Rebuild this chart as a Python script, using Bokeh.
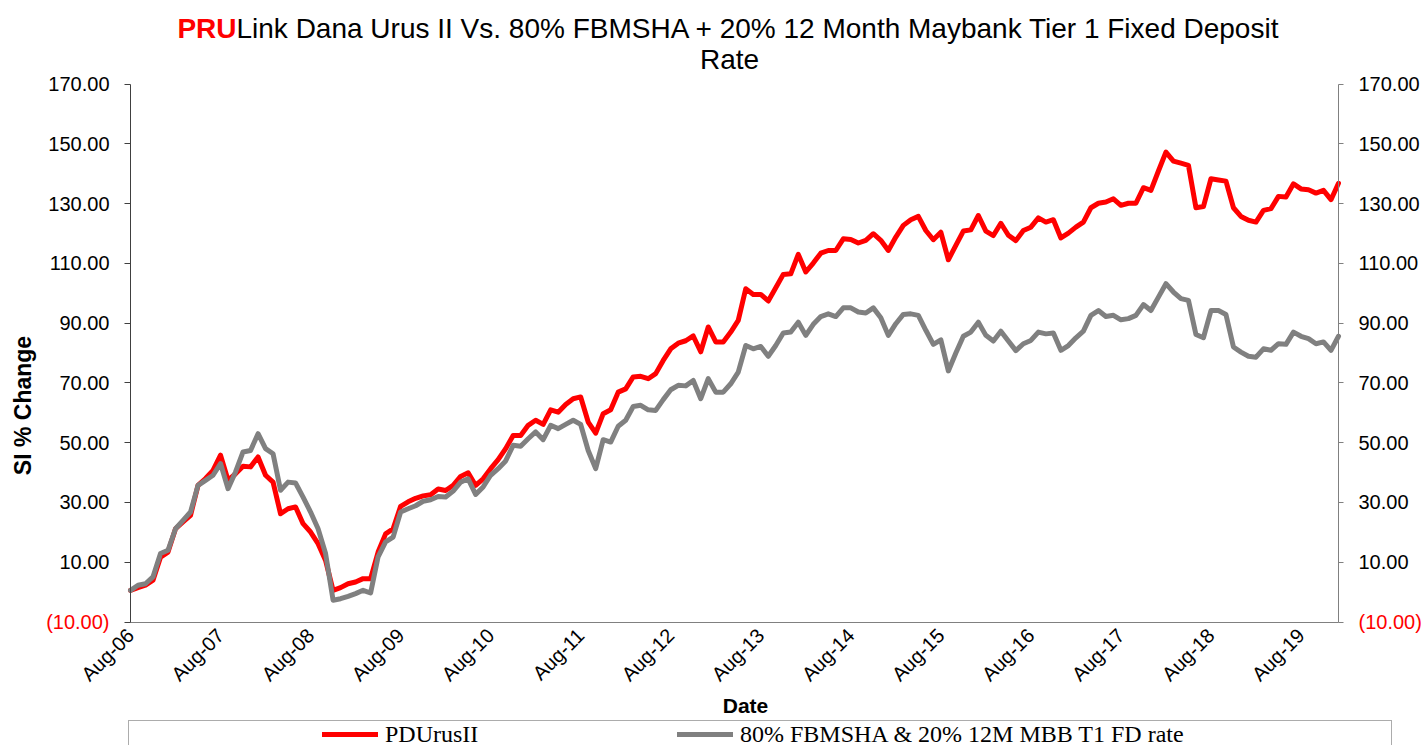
import math
import pandas as pd
from bokeh.plotting import figure
from bokeh.models import (Range1d, LinearAxis, FixedTicker, NumeralTickFormatter,
                          Legend, LegendItem, Label)
from bokeh.embed import file_html
from bokeh.resources import INLINE

# ---------------- data ----------------
months = [d.strftime("%b-%y") for d in pd.date_range("2006-08-01", periods=162, freq="MS")]

pdurus = [
    0.6, 1.5, 2.3, 4.0, 11.7, 13.4, 21.2, 23.5, 25.7, 35.7, 38.0, 40.7,
    45.8, 37.4, 39.6, 42.1, 41.9, 45.2, 39.1, 36.8, 26.2, 27.9, 28.5, 22.9,
    20.1, 16.2, 10.6, 0.6, 1.5, 2.8, 3.4, 4.5, 4.5, 13.4, 19.5, 21.2,
    28.7, 30.2, 31.4, 32.2, 32.6, 34.5, 34.0, 35.7, 38.7, 39.9, 35.7, 37.9,
    41.3, 44.3, 48.0, 52.4, 52.4, 55.8, 57.5, 56.1, 61.0, 60.2, 62.8, 64.7,
    65.3, 56.9, 53.2, 59.7, 61.0, 66.9, 68.0, 72.0, 72.2, 71.4, 73.1, 77.5,
    81.4, 83.3, 84.1, 85.7, 80.4, 88.7, 83.7, 83.7, 87.0, 90.9, 101.5, 99.6,
    99.6, 97.4, 101.8, 106.3, 106.5, 113.0, 107.1, 110.1, 113.4, 114.3, 114.3, 118.2,
    118.0, 116.8, 117.7, 119.9, 117.7, 114.3, 118.8, 122.7, 124.6, 125.7, 121.0, 117.9,
    120.4, 111.2, 116.0, 120.8, 121.2, 126.0, 120.8, 119.3, 123.4, 119.4, 117.6, 121.0,
    122.1, 125.2, 123.8, 124.6, 118.5, 120.1, 122.1, 123.8, 128.6, 130.1, 130.5, 131.6,
    129.4, 130.1, 130.1, 135.3, 134.4, 140.9, 147.2, 144.2, 143.5, 142.8, 128.6, 129.0,
    138.3, 137.9, 137.5, 128.6, 125.7, 124.4, 123.8, 127.7, 128.3, 132.4, 132.2, 136.6,
    134.9, 134.6, 133.5, 134.4, 131.3, 136.8,
]

benchmark = [
    0.6, 2.3, 2.8, 5.1, 12.9, 14.0, 21.2, 24.0, 26.8, 35.7, 37.4, 39.1,
    43.0, 34.6, 40.2, 46.9, 47.4, 53.0, 48.0, 46.3, 34.1, 36.8, 36.5, 31.8,
    26.8, 21.2, 12.9, -2.7, -2.2, -1.4, -0.5, 0.6, -0.3, 11.8, 16.8, 18.4,
    26.8, 27.9, 28.9, 30.4, 30.9, 32.0, 31.8, 33.8, 36.8, 37.9, 32.7, 35.2,
    39.1, 41.3, 43.9, 49.1, 48.8, 51.3, 53.6, 51.0, 55.8, 54.7, 56.1, 57.5,
    56.1, 47.4, 41.3, 51.0, 50.2, 55.5, 57.5, 62.1, 62.5, 61.0, 60.8, 64.4,
    67.7, 69.2, 69.0, 70.8, 64.7, 71.4, 66.9, 66.9, 69.7, 73.6, 82.5, 81.4,
    82.2, 78.9, 82.5, 86.7, 87.0, 90.3, 85.9, 89.6, 92.2, 93.1, 92.2, 95.1,
    95.1, 93.7, 93.4, 95.1, 91.8, 85.9, 89.8, 92.9, 93.1, 92.6, 87.6, 82.9,
    84.4, 74.0, 80.0, 85.6, 87.0, 90.3, 85.9, 84.0, 87.3, 84.0, 80.8, 83.1,
    84.2, 87.0, 86.4, 86.7, 80.9, 82.5, 85.1, 87.3, 92.6, 94.2, 92.2, 92.6,
    91.1, 91.5, 92.6, 96.2, 94.2, 98.7, 103.2, 100.4, 98.2, 97.6, 86.2, 85.1,
    94.2, 94.2, 92.9, 82.0, 80.3, 78.9, 78.6, 81.4, 80.9, 83.1, 82.9, 87.0,
    85.6, 84.8, 83.1, 83.7, 80.9, 85.6,
]

x_tick_labels = ["Aug-06", "Aug-07", "Aug-08", "Aug-09", "Aug-10", "Aug-11", "Aug-12",
                 "Aug-13", "Aug-14", "Aug-15", "Aug-16", "Aug-17", "Aug-18", "Aug-19"]
y_ticks = [-10, 10, 30, 50, 70, 90, 110, 130, 150, 170]
series_names = ["PDUrusII", "80% FBMSHA & 20% 12M MBB T1 FD rate"]
series_colors = ["#FF0000", "#808080"]
title_parts = ["PRU", "Link Dana Urus II Vs. 80% FBMSHA + 20% 12 Month Maybank Tier 1 Fixed Deposit", "Rate"]
y_title = "SI % Change"
x_title = "Date"

FONT = "Liberation Sans"

# ---------------- canvas geometry (pixels) ----------------
W, H = 1427, 745
PL, PR, PT, PB = 130.0, 1338.0, 83.5, 621.5      # plot-area edges on the canvas
n = len(months)
x_lo, x_hi = 0, n - 1
y_lo, y_hi = y_ticks[0], y_ticks[-1]
ppx = (PR - PL) / (x_hi - x_lo)
ppy = (PB - PT) / (y_hi - y_lo)
x_range = Range1d(x_lo - PL / ppx, x_hi + (W - PR) / ppx)
y_range = Range1d(y_lo - (H - PB) / ppy, y_hi + PT / ppy)

p = figure(width=W, height=H, min_border=0, x_range=x_range, y_range=y_range,
           output_backend="svg", toolbar_location=None, title=None)
p.outline_line_alpha = 0
p.xgrid.visible = False
p.ygrid.visible = False
p.background_fill_color = "white"
p.border_fill_color = "white"

x_idx = list(range(n))
r_red = p.line(x_idx, pdurus, line_color=series_colors[0], line_width=5,
               line_join="round", line_cap="round")
r_grey = p.line(x_idx, benchmark, line_color=series_colors[1], line_width=5,
                line_join="round", line_cap="round")
dummy = p.line(x=[], y=[], line_alpha=0)

# ---------------- axes, pinned to the plot-area edges ----------------
xaxis = p.xaxis[0]
xaxis.fixed_location = y_lo
xaxis.bounds = (x_lo, x_hi)
xaxis.ticker = FixedTicker(ticks=[months.index(t) for t in x_tick_labels])
xaxis.major_label_overrides = {months.index(t): t for t in x_tick_labels}
xaxis.major_label_orientation = math.pi / 4
xaxis.major_tick_out = 0
xaxis.major_tick_in = 0
xaxis.minor_tick_out = 0
xaxis.minor_tick_in = 0
xaxis.major_label_standoff = 10
xaxis.axis_line_color = "#808080"
xaxis.major_label_text_font = FONT
xaxis.major_label_text_font_size = "20px"
xaxis.major_label_text_color = "black"

yaxis = p.yaxis[0]
raxis = LinearAxis()
p.add_layout(raxis, "right")
for ax, loc, col, out, so in [(yaxis, x_lo, "#404040", 6, 15), (raxis, x_hi, "#808080", 5, 15)]:
    ax.fixed_location = loc
    ax.bounds = (y_lo, y_hi)
    ax.ticker = FixedTicker(ticks=y_ticks)
    ax.formatter = NumeralTickFormatter(format="0.00")
    ax.major_label_overrides = {y_lo: ""}
    ax.axis_line_color = col
    ax.major_tick_line_color = col
    ax.major_tick_out = out
    ax.major_tick_in = 0
    ax.minor_tick_out = 0
    ax.minor_tick_in = 0
    ax.major_label_standoff = so
    ax.major_label_text_font = FONT
    ax.major_label_text_font_size = "20px"
    ax.major_label_text_color = "black"

# negative tick labels in red (Excel "(10.00)" style)
neg_text = "({:.2f})".format(abs(y_lo))
p.add_layout(Label(x=x_lo, y=y_lo, x_offset=-21, text=neg_text, text_align="right",
                   text_baseline="middle", text_color="#FF0000",
                   text_font=FONT, text_font_size="20px"))
p.add_layout(Label(x=x_hi, y=y_lo, x_offset=20, text=neg_text, text_align="left",
                   text_baseline="middle", text_color="#FF0000",
                   text_font=FONT, text_font_size="20px"))

# ---------------- titles (screen units: from canvas bottom-left) ----------------
def sy(y_from_top):
    return H - y_from_top

p.add_layout(Label(x=236, y=sy(28), x_units="screen", y_units="screen", text=title_parts[0],
                   text_align="right", text_baseline="middle", text_color="#FF0000",
                   text_font=FONT, text_font_size="28px", text_font_style="bold"))
p.add_layout(Label(x=236, y=sy(28), x_units="screen", y_units="screen", text=title_parts[1],
                   text_align="left", text_baseline="middle", text_color="black",
                   text_font=FONT, text_font_size="28px"))
p.add_layout(Label(x=729, y=sy(59), x_units="screen", y_units="screen", text=title_parts[2],
                   text_align="center", text_baseline="middle", text_color="black",
                   text_font=FONT, text_font_size="28px"))

p.add_layout(Label(x=22, y=sy(405), x_units="screen", y_units="screen", text=y_title,
                   angle=math.pi / 2, text_align="center", text_baseline="middle",
                   text_font=FONT, text_font_size="23px", text_font_style="bold",
                   text_color="black"))
p.add_layout(Label(x=745, y=sy(705), x_units="screen", y_units="screen", text=x_title,
                   text_align="center", text_baseline="middle",
                   text_font=FONT, text_font_size="21px", text_font_style="bold",
                   text_color="black"))

# ---------------- legend ----------------
legend_box = Legend(items=[LegendItem(label=" ", renderers=[dummy])], location=(128, sy(762)),
                    orientation="horizontal", padding=0, margin=0, spacing=0,
                    glyph_width=2, glyph_height=40, label_height=40, label_width=1260,
                    label_standoff=0, label_text_font_size="10px",
                    border_line_color="#595959", border_line_width=1,
                    background_fill_color="white", background_fill_alpha=1)
legend_items = Legend(items=[LegendItem(label=series_names[0], renderers=[r_red]),
                             LegendItem(label=series_names[1], renderers=[r_grey])],
                      location=(322, sy(748)), orientation="horizontal", padding=0, margin=0,
                      glyph_width=56, glyph_height=28, label_height=28, label_standoff=7,
                      label_width=120, spacing=172,
                      label_text_font="Liberation Serif", label_text_font_size="24px",
                      label_text_color="black",
                      border_line_alpha=0, background_fill_alpha=0)
p.add_layout(legend_box)
p.add_layout(legend_items)

open("out.html", "w").write(file_html(p, INLINE))
